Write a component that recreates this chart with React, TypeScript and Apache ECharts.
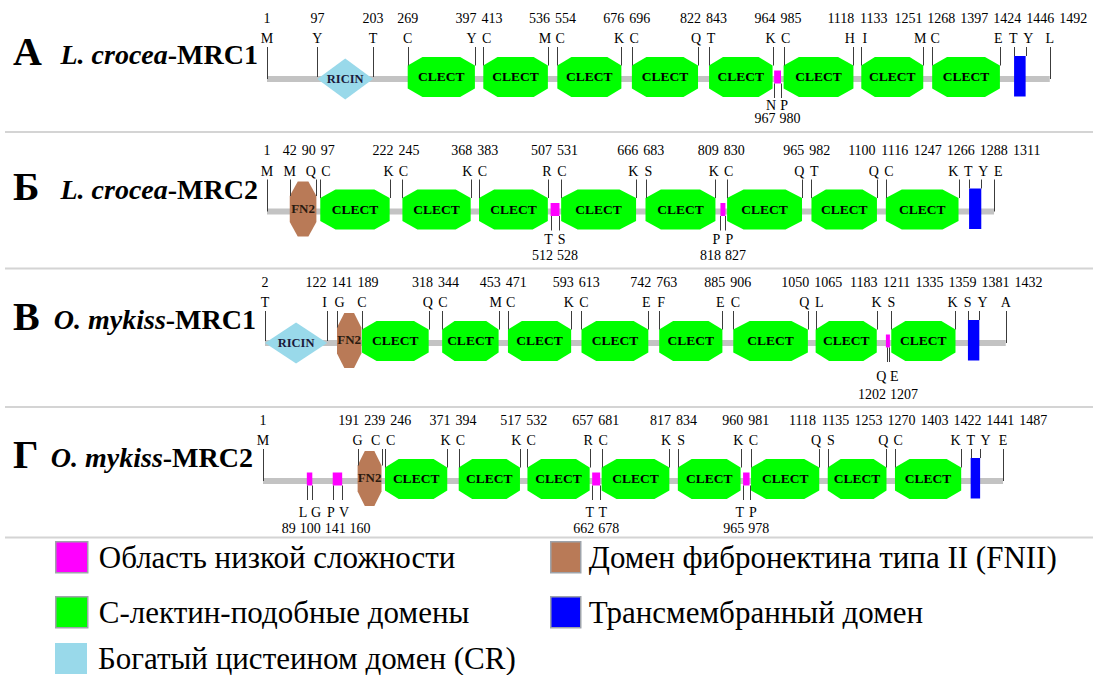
import { useEffect, useRef } from "react";
import * as echarts from "echarts";

type Range = [number, number];
type Site = [number, string];

// Legend captions (also used as series names so the legend picks up colours)
const NAME_LCR = "Область низкой сложности";
const NAME_FN2 = "Домен фибронектина типа II (FNII)";
const NAME_CLECT = "С-лектин-подобные домены";
const NAME_TM = "Трансмембранный домен";
const NAME_CR = "Богатый цистеином домен (CR)";

// Panel А: L. crocea MRC1
const lcMrc1Span: Range = [1, 1492];
const lcMrc1Clect: Range[] = [[269, 397], [413, 536], [554, 676], [696, 822], [843, 964], [985, 1118], [1133, 1251], [1268, 1397]];
const lcMrc1Ricin: Range[] = [[97, 203]];
const lcMrc1Fn2: Range[] = [];
const lcMrc1Lcr: Range[] = [[967, 980]];
const lcMrc1Tm: Range[] = [[1424, 1446]];
const lcMrc1TopSites: Site[] = [[1, "M"], [97, "Y"], [203, "T"], [269, "C"], [397, "Y"], [413, "C"], [536, "M"], [554, "C"], [676, "K"], [696, "C"], [822, "Q"], [843, "T"], [964, "K"], [985, "C"], [1118, "H"], [1133, "I"], [1251, "M"], [1268, "C"], [1397, "E"], [1424, "T"], [1446, "Y"], [1492, "L"]];
const lcMrc1BottomSites: Site[] = [[967, "N"], [980, "P"]];

// Panel Б: L. crocea MRC2
const lcMrc2Span: Range = [1, 1311];
const lcMrc2Clect: Range[] = [[97, 222], [245, 368], [383, 507], [531, 666], [683, 809], [830, 965], [982, 1100], [1116, 1247]];
const lcMrc2Ricin: Range[] = [];
const lcMrc2Fn2: Range[] = [[42, 90]];
const lcMrc2Lcr: Range[] = [[512, 528], [818, 827]];
const lcMrc2Tm: Range[] = [[1266, 1288]];
const lcMrc2TopSites: Site[] = [[1, "M"], [42, "M"], [90, "Q"], [97, "C"], [222, "K"], [245, "C"], [368, "K"], [383, "C"], [507, "R"], [531, "C"], [666, "K"], [683, "S"], [809, "K"], [830, "C"], [965, "Q"], [982, "T"], [1100, "Q"], [1116, "C"], [1247, "K"], [1266, "T"], [1288, "Y"], [1311, "E"]];
const lcMrc2BottomSites: Site[] = [[512, "T"], [528, "S"], [818, "P"], [827, "P"]];

// Panel В: O. mykiss MRC1
const omMrc1Span: Range = [2, 1432];
const omMrc1Clect: Range[] = [[189, 318], [344, 453], [471, 593], [613, 742], [763, 885], [906, 1050], [1065, 1183], [1211, 1335]];
const omMrc1Ricin: Range[] = [[2, 122]];
const omMrc1Fn2: Range[] = [[141, 188]];
const omMrc1Lcr: Range[] = [[1202, 1207]];
const omMrc1Tm: Range[] = [[1359, 1381]];
const omMrc1TopSites: Site[] = [[2, "T"], [122, "I"], [141, "G"], [189, "C"], [318, "Q"], [344, "C"], [453, "M"], [471, "C"], [593, "K"], [613, "C"], [742, "E"], [763, "F"], [885, "E"], [906, "C"], [1050, "Q"], [1065, "L"], [1183, "K"], [1211, "S"], [1335, "K"], [1359, "S"], [1381, "Y"], [1432, "A"]];
const omMrc1BottomSites: Site[] = [[1202, "Q"], [1207, "E"]];

// Panel Г: O. mykiss MRC2
const omMrc2Span: Range = [1, 1487];
const omMrc2Clect: Range[] = [[246, 371], [394, 517], [532, 657], [681, 817], [834, 960], [981, 1118], [1135, 1253], [1270, 1403]];
const omMrc2Ricin: Range[] = [];
const omMrc2Fn2: Range[] = [[191, 239]];
const omMrc2Lcr: Range[] = [[89, 100], [141, 160], [662, 678], [965, 978]];
const omMrc2Tm: Range[] = [[1422, 1441]];
const omMrc2TopSites: Site[] = [[1, "M"], [191, "G"], [239, "C"], [246, "C"], [371, "K"], [394, "C"], [517, "K"], [532, "C"], [657, "R"], [681, "C"], [817, "K"], [834, "S"], [960, "K"], [981, "C"], [1118, "Q"], [1135, "S"], [1253, "Q"], [1270, "C"], [1403, "K"], [1422, "T"], [1441, "Y"], [1487, "E"]];
const omMrc2BottomSites: Site[] = [[89, "L"], [100, "G"], [141, "P"], [160, "V"], [662, "T"], [678, "T"], [965, "T"], [978, "P"]];

const panelLetters = ["А", "Б", "В", "Г"];
const speciesNames = ["L. crocea", "L. crocea", "O. mykiss", "O. mykiss"];
const proteinNames = ["MRC1", "MRC2", "MRC1", "MRC2"];

interface Panel {
  span: Range;
  clect: Range[];
  ricin: Range[];
  fn2: Range[];
  lcr: Range[];
  tm: Range[];
  top: Site[];
  bottom: Site[];
}

const panels: Panel[] = [
  { span: lcMrc1Span, clect: lcMrc1Clect, ricin: lcMrc1Ricin, fn2: lcMrc1Fn2, lcr: lcMrc1Lcr, tm: lcMrc1Tm, top: lcMrc1TopSites, bottom: lcMrc1BottomSites },
  { span: lcMrc2Span, clect: lcMrc2Clect, ricin: lcMrc2Ricin, fn2: lcMrc2Fn2, lcr: lcMrc2Lcr, tm: lcMrc2Tm, top: lcMrc2TopSites, bottom: lcMrc2BottomSites },
  { span: omMrc1Span, clect: omMrc1Clect, ricin: omMrc1Ricin, fn2: omMrc1Fn2, lcr: omMrc1Lcr, tm: omMrc1Tm, top: omMrc1TopSites, bottom: omMrc1BottomSites },
  { span: omMrc2Span, clect: omMrc2Clect, ricin: omMrc2Ricin, fn2: omMrc2Fn2, lcr: omMrc2Lcr, tm: omMrc2Tm, top: omMrc2TopSites, bottom: omMrc2BottomSites },
];

// ---- layout ----
const W = 1098;
const H = 675;
const SERIF = "Liberation Serif";
const ROW_Y = [79, 211.5, 343, 481]; // backbone centre line of each panel
const ROW_ORIGIN = [267, 267, 265, 263]; // pixel x of the first residue
const ROW_SCALE = [0.525, 0.555, 0.518, 0.498]; // pixels per residue
const TOP_NUMBER_DY = -61;
const TOP_LETTER_DY = -40.5;
const TICK_TOP_DY = -32;
const BOTTOM_LETTER_DY = [26, 27.5, 33.5, 31.5];
const BOTTOM_NUMBER_DY = [39.5, 44, 51, 47.5];
const HEAD_LETTER_Y = [51.5, 186.5, 316, 454.5];
const HEAD_NAME_Y = [54, 189, 319.5, 457];
const HEAD_NAME_RIGHT = [258, 258, 256, 253];
const SEPARATOR_Y = [132, 268.5, 407, 537.5];

const COLOR_BACKBONE = "#c3c3c3";
const COLOR_CLECT = "#00ff00";
const COLOR_TM = "#0000ff";
const COLOR_LCR = "#ff00ff";
const COLOR_FN2 = "#b97a57";
const COLOR_CR = "#99d9ea";
const COLOR_TICK = "#3c3c3c";

const textStyle = (text: string, x: number, y: number, size: number, bold = false, fill = "#000") => ({
  text,
  x,
  y,
  align: "center",
  verticalAlign: "middle",
  fontFamily: SERIF,
  fontSize: size,
  fontWeight: bold ? "bold" : "normal",
  fill,
});

// push apart labels that would collide, keeping each cluster centred
function spread(xs: number[], widths: number[], gap: number): number[] {
  const out = xs.slice();
  for (let it = 0; it < 300; it++) {
    let moved = false;
    for (let i = 1; i < out.length; i++) {
      const need = (widths[i - 1] + widths[i]) / 2 + gap;
      const d = out[i] - out[i - 1];
      if (d < need - 0.05) {
        const s = (need - d) / 2;
        out[i - 1] -= s;
        out[i] += s;
        moved = true;
      }
    }
    if (!moved) break;
  }
  return out;
}

// how far down a boundary tick reaches (relative to the backbone centre)
function tickEnd(p: Panel, pos: number): number {
  const hit = (list: Range[]) => list.some(([a, b]) => a === pos || b === pos);
  if (hit(p.tm)) return -23;
  if (hit(p.clect)) return -13.5;
  if (hit(p.fn2)) return -15.5;
  if (hit(p.ricin)) return -2;
  return 0;
}

const ends = (api: any) => {
  const a = api.coord([api.value(0), 0]);
  const b = api.coord([api.value(1), 0]);
  return { x0: a[0], x1: b[0], y: a[1] };
};

const renderBackbone = (_: any, api: any) => {
  const { x0, x1, y } = ends(api);
  return { type: "rect", shape: { x: x0, y: y - 3, width: x1 - x0, height: 6 }, style: { fill: COLOR_BACKBONE } };
};

const renderClect = (_: any, api: any) => {
  const { x0, x1, y } = ends(api);
  const cy = y - 2;
  const c = (x1 - x0) * 0.22;
  const h = 20;
  const s = 11.5;
  return {
    type: "group",
    children: [
      {
        type: "polygon",
        shape: { points: [[x0, cy - s], [x0 + c, cy - h], [x1 - c, cy - h], [x1, cy - s], [x1, cy + s], [x1 - c, cy + h], [x0 + c, cy + h], [x0, cy + s]] },
        style: { fill: api.visual("color") },
      },
      { type: "text", style: textStyle("CLECT", (x0 + x1) / 2, cy - 0.5, 13.5, true) },
    ],
  };
};

const renderFn2 = (_: any, api: any) => {
  const { x0, x1, y } = ends(api);
  const cy = y - 2.5;
  const w = x1 - x0;
  const h = 27.5;
  const s = 13;
  return {
    type: "group",
    children: [
      {
        type: "polygon",
        shape: { points: [[x0, cy - s], [x0 + 0.3 * w, cy - h], [x1 - 0.3 * w, cy - h], [x1, cy - s], [x1, cy + s], [x1 - 0.3 * w, cy + h], [x0 + 0.3 * w, cy + h], [x0, cy + s]] },
        style: { fill: api.visual("color") },
      },
      { type: "text", style: textStyle("FN2", (x0 + x1) / 2, cy - 1, 13, true, "#2a1a10") },
    ],
  };
};

const renderRicin = (_: any, api: any) => {
  const { x0, x1, y } = ends(api);
  const xm = (x0 + x1) / 2;
  const h = 20.5;
  return {
    type: "group",
    children: [
      { type: "polygon", shape: { points: [[x0, y], [xm, y - h], [x1, y], [xm, y + h]] }, style: { fill: api.visual("color") } },
      { type: "text", style: textStyle("RICIN", xm, y, 12.5, true, "#1a1a3a") },
    ],
  };
};

const renderTm = (_: any, api: any) => {
  const { x0, x1, y } = ends(api);
  return { type: "rect", shape: { x: x0, y: y - 23, width: x1 - x0, height: 40.5 }, style: { fill: api.visual("color") } };
};

const renderLcr = (_: any, api: any) => {
  const { x0, x1, y } = ends(api);
  const w = Math.max(x1 - x0, 4);
  const xm = (x0 + x1) / 2;
  return { type: "rect", shape: { x: xm - w / 2, y: y - 8.5, width: w, height: 13 }, style: { fill: api.visual("color") } };
};

const makeTopSites = (p: Panel) => (params: any, api: any) => {
  const sites = p.top;
  const pts = sites.map((s) => api.coord([s[0], 0]));
  const xs = pts.map((q: number[]) => q[0]);
  const yB = pts[0][1];
  const numX = spread(xs, sites.map((s) => String(s[0]).length * 7), 5);
  const letX = spread(xs, sites.map(() => 10), 5);
  const i = params.dataIndex;
  const pos = api.value(0);
  const tx = Math.round(xs[i]) + 0.5;
  return {
    type: "group",
    children: [
      { type: "line", shape: { x1: tx, y1: yB + TICK_TOP_DY, x2: tx, y2: yB + tickEnd(p, pos) }, style: { stroke: COLOR_TICK, lineWidth: 1 } },
      { type: "text", style: textStyle(sites[i][1], letX[i], yB + TOP_LETTER_DY, 14) },
      { type: "text", style: textStyle(String(pos), numX[i], yB + TOP_NUMBER_DY, 14) },
    ],
  };
};

const makeBottomSites = (p: Panel, r: number) => (params: any, api: any) => {
  const sites = p.bottom;
  const pts = sites.map((s) => api.coord([s[0], 0]));
  const xs = pts.map((q: number[]) => q[0]);
  const yB = pts[0][1];
  const numX = spread(xs, sites.map((s) => String(s[0]).length * 7), 4);
  const letX = spread(xs, sites.map(() => 10), 3);
  const i = params.dataIndex;
  const pos = api.value(0);
  const tx = Math.round(xs[i]) + 0.5;
  return {
    type: "group",
    children: [
      { type: "line", shape: { x1: tx, y1: yB + 4.5, x2: tx, y2: yB + 19 }, style: { stroke: COLOR_TICK, lineWidth: 1 } },
      { type: "text", style: textStyle(sites[i][1], letX[i], yB + BOTTOM_LETTER_DY[r], 14) },
      { type: "text", style: textStyle(String(pos), numX[i], yB + BOTTOM_NUMBER_DY[r], 14) },
    ],
  };
};

function buildOption() {
  const grid: any[] = [];
  const xAxis: any[] = [];
  const yAxis: any[] = [];
  const series: any[] = [];

  panels.forEach((p, r) => {
    const s = ROW_SCALE[r];
    const min = p.span[0] - ROW_ORIGIN[r] / s;
    grid.push({ left: 0, right: 0, top: ROW_Y[r] - 1, height: 2 });
    xAxis.push({ type: "value", gridIndex: r, min, max: min + W / s, show: false });
    yAxis.push({ type: "value", gridIndex: r, min: -1, max: 1, show: false });
    const axes = { xAxisIndex: r, yAxisIndex: r, silent: true };

    series.push({ type: "custom", ...axes, z: 1, data: [p.span], renderItem: renderBackbone });
    const domainSeries: [string, string, Range[], any][] = [
      [NAME_CR, COLOR_CR, p.ricin, renderRicin],
      [NAME_FN2, COLOR_FN2, p.fn2, renderFn2],
      [NAME_CLECT, COLOR_CLECT, p.clect, renderClect],
      [NAME_LCR, COLOR_LCR, p.lcr, renderLcr],
      [NAME_TM, COLOR_TM, p.tm, renderTm],
    ];
    domainSeries.forEach(([name, color, data, render]) => {
      if (!data.length) return;
      series.push({ type: "custom", name, ...axes, z: 2, itemStyle: { color }, data, renderItem: render });
    });
    series.push({ type: "custom", ...axes, z: 3, data: p.top.map((t) => [t[0]]), renderItem: makeTopSites(p) });
    if (p.bottom.length) {
      series.push({ type: "custom", ...axes, z: 3, data: p.bottom.map((t) => [t[0]]), renderItem: makeBottomSites(p, r) });
    }
  });

  const legendText = (padLeft: number) => ({ fontFamily: SERIF, fontSize: 31, color: "#000", padding: [0, 0, 0, padLeft] });
  const legendBase = { selectedMode: false, icon: "rect", orient: "horizontal", padding: 0, itemHeight: 31 };
  const boxBorder = { borderColor: "#9ea3aa", borderWidth: 1.5 };
  const legend = [
    { ...legendBase, left: 55, top: 541, itemWidth: 32, textStyle: legendText(6), data: [{ name: NAME_LCR, itemStyle: boxBorder }] },
    { ...legendBase, left: 55, top: 596, itemWidth: 32, textStyle: legendText(6), data: [{ name: NAME_CLECT, itemStyle: boxBorder }] },
    { ...legendBase, left: 55, top: 643, itemWidth: 32, textStyle: legendText(6), data: [{ name: NAME_CR, itemStyle: { borderWidth: 0 } }] },
    { ...legendBase, left: 550, top: 541, itemWidth: 30, textStyle: legendText(3), data: [{ name: NAME_FN2, itemStyle: boxBorder }] },
    { ...legendBase, left: 550, top: 596, itemWidth: 30, textStyle: legendText(3), data: [{ name: NAME_TM, itemStyle: boxBorder }] },
  ];

  const graphics: any[] = [];
  SEPARATOR_Y.forEach((y) => {
    graphics.push({ type: "line", shape: { x1: 5, y1: y, x2: 1093, y2: y }, style: { stroke: "#d4d4d4", lineWidth: 2 }, silent: true });
  });
  panels.forEach((_, r) => {
    graphics.push({
      type: "text",
      x: 13,
      y: HEAD_LETTER_Y[r],
      style: { text: panelLetters[r], align: "left", verticalAlign: "middle", fontFamily: SERIF, fontSize: 40, fontWeight: "bold", fill: "#000" },
      silent: true,
    });
    graphics.push({
      type: "text",
      x: HEAD_NAME_RIGHT[r],
      y: HEAD_NAME_Y[r],
      style: {
        text: `{sp|${speciesNames[r]}}{pr|-${proteinNames[r]}}`,
        align: "right",
        verticalAlign: "middle",
        rich: {
          sp: { fontFamily: SERIF, fontSize: 28, fontWeight: "bold", fontStyle: "italic", fill: "#000" },
          pr: { fontFamily: SERIF, fontSize: 28, fontWeight: "bold", fill: "#000" },
        },
      },
      silent: true,
    });
  });

  return {
    animation: false,
    backgroundColor: "#ffffff",
    textStyle: { fontFamily: SERIF },
    grid,
    xAxis,
    yAxis,
    legend,
    graphic: { elements: graphics },
    series,
  };
}

export default function App() {
  const ref = useRef<HTMLDivElement>(null);
  useEffect(() => {
    document.body.style.margin = "0";
    if (!ref.current) return;
    const chart = echarts.init(ref.current, null, { renderer: "svg" });
    chart.setOption(buildOption() as any);
    return () => chart.dispose();
  }, []);
  return <div ref={ref} style={{ width: W, height: H, position: "absolute", left: 0, top: 0 }} />;
}
